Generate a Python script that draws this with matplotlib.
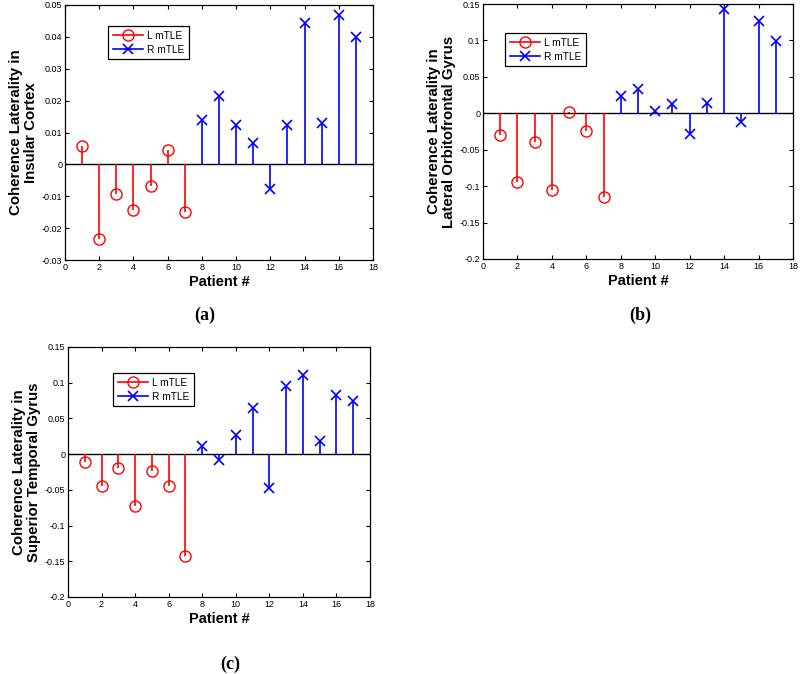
import matplotlib
matplotlib.use("Agg")
import matplotlib.pyplot as plt
import numpy as np
from matplotlib.lines import Line2D
from matplotlib.legend_handler import HandlerLine2D
from matplotlib.ticker import FuncFormatter

plt.rcParams['font.family'] = ['Liberation Sans', 'DejaVu Sans']

patients_L = [1, 2, 3, 4, 5, 6, 7]
patients_R = [8, 9, 10, 11, 12, 13, 14, 15, 16, 17]

insular_L = [0.0058, -0.0235, -0.0092, -0.0142, -0.0069, 0.0046, -0.0148]
insular_R = [0.0138, 0.0214, 0.0123, 0.0067, -0.0076, 0.0122, 0.0444, 0.0131, 0.0468, 0.0399]

orbito_L = [-0.030, -0.095, -0.040, -0.105, 0.002, -0.024, -0.115]
orbito_R = [0.024, 0.034, 0.003, 0.013, -0.029, 0.014, 0.143, -0.012, 0.127, 0.099]

temporal_L = [-0.011, -0.045, -0.020, -0.072, -0.023, -0.045, -0.142]
temporal_R = [0.011, -0.008, 0.027, 0.064, -0.047, 0.096, 0.111, 0.019, 0.083, 0.074]

ylabels = ["Coherence Laterality in\nInsular Cortex",
           "Coherence Laterality in\nLateral Orbitofrontal Gyrus",
           "Coherence Laterality in\nSuperior Temporal Gyrus"]
ylims = [(-0.03, 0.05), (-0.2, 0.15), (-0.2, 0.15)]
ysteps = [0.01, 0.05, 0.05]
captions = ["(a)", "(b)", "(c)"]
legend_labels = ["L mTLE", "R mTLE"]

W, H = 800, 674
fig = plt.figure(figsize=(W / 100, H / 100), dpi=100)


def rect(x0, y0, x1, y1):
    return [x0 / W, 1 - y1 / H, (x1 - x0) / W, (y1 - y0) / H]


axes_px = [(65, 5, 373, 260), (483, 4, 793, 259), (68, 347, 370, 597)]
legend_px = [(108, 26), (505, 33), (113, 373)]
caption_px = [(205, 315), (640, 315), (230, 664)]


class EndMarkerHandler(HandlerLine2D):
    def get_xdata(self, legend, xdescent, ydescent, width, height, fontsize):
        xdata = np.array([-xdescent, -xdescent + width])
        xdata_marker = np.array([-xdescent + width * 0.9])
        return xdata, xdata_marker


datasets = [(insular_L, insular_R), (orbito_L, orbito_R), (temporal_L, temporal_R)]

for i, (dl, dr) in enumerate(datasets):
    ax = fig.add_axes(rect(*axes_px[i]))
    ml, sl, bl = ax.stem(patients_L, dl, linefmt='r-', markerfmt='ro', basefmt=' ')
    plt.setp(sl, linewidth=1.2, color='#ff0000')
    plt.setp(ml, markerfacecolor='none', markeredgecolor='#ff0000', markersize=8, markeredgewidth=1.0)
    ml2, sl2, bl2 = ax.stem(patients_R, dr, linefmt='b-', markerfmt='bx', basefmt=' ')
    plt.setp(sl2, linewidth=1.2, color='#0000ff')
    plt.setp(ml2, markeredgecolor='#0000ff', markersize=7, markeredgewidth=1.2)
    ax.axhline(0, color='black', linewidth=1.0, zorder=1)

    ax.set_xlim(0, 18)
    ax.set_ylim(*ylims[i])
    ax.set_xticks(np.arange(0, 19, 2))
    lo, hi = ylims[i]
    ax.set_yticks(np.round(np.arange(lo, hi + ysteps[i] / 2, ysteps[i]), 4))
    ax.yaxis.set_major_formatter(FuncFormatter(lambda v, p: ("%g" % round(v, 4)) if abs(v) > 1e-9 else "0"))
    ax.tick_params(direction='in', top=True, right=True, labelsize=6.5, length=3, width=0.8, pad=2)
    for s in ax.spines.values():
        s.set_linewidth(0.9)

    ax.set_xlabel("Patient #", fontsize=10.5, fontweight='bold', labelpad=2)
    ax.set_ylabel(ylabels[i], fontsize=10.8, fontweight='bold', labelpad=3, linespacing=1.05)

    h1 = Line2D([0], [0], color='#ff0000', lw=1.2, marker='o', markerfacecolor='none',
                markeredgecolor='#ff0000', markersize=8)
    h2 = Line2D([0], [0], color='#0000ff', lw=1.2, marker='x', markeredgecolor='#0000ff',
                markersize=7, markeredgewidth=1.2)
    lx, ly = legend_px[i]
    ax0, ay0, aw, ah = rect(*axes_px[i])
    bx = (lx / W - ax0) / aw
    by = ((1 - ly / H) - ay0) / ah
    leg = ax.legend([h1, h2], legend_labels, loc='upper left', bbox_to_anchor=(bx, by),
                    fontsize=7.3, frameon=True, fancybox=False, framealpha=1,
                    edgecolor='black', borderpad=0.45, handlelength=3.0,
                    handletextpad=0.4, labelspacing=0.4, borderaxespad=0,
                    handler_map={Line2D: EndMarkerHandler()})
    leg.get_frame().set_linewidth(0.9)

    cx, cy = caption_px[i]
    fig.text(cx / W, 1 - cy / H, captions[i], ha='center', va='center',
             fontsize=13, fontweight='bold', family=['Liberation Serif', 'DejaVu Serif'])

fig.savefig("out.png", dpi=100)
